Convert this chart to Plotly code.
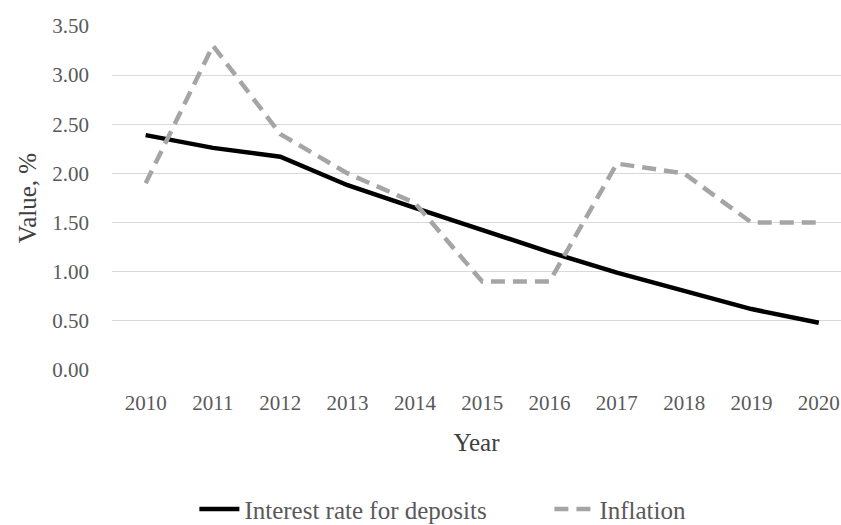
import plotly.graph_objects as go

years = [2010, 2011, 2012, 2013, 2014, 2015, 2016, 2017, 2018, 2019, 2020]
interest_rate = [2.39, 2.26, 2.17, 1.88, 1.65, 1.42, 1.20, 0.99, 0.80, 0.62, 0.48]
inflation = [1.90, 3.30, 2.40, 2.00, 1.70, 0.90, 0.90, 2.10, 2.00, 1.50, 1.50]
y_ticks = [0, 0.5, 1.0, 1.5, 2.0, 2.5, 3.0, 3.5]

FONT = "Liberation Serif"
TICK_GRAY = "#595959"
TITLE_GRAY = "#404040"

fig = go.Figure()
fig.add_trace(go.Scatter(
    x=years, y=interest_rate, mode="lines", name="Interest rate for deposits",
    line=dict(color="#000000", width=4.5), legend="legend",
))
fig.add_trace(go.Scatter(
    x=years, y=inflation, mode="lines", name="Inflation",
    line=dict(color="#A5A5A5", width=4.5, dash="14px,8px"), legend="legend2",
))

legend_style = dict(
    orientation="h", xanchor="left", yref="container", y=0.03, yanchor="middle",
    font=dict(family=FONT, size=25, color=TICK_GRAY),
    itemwidth=40, bgcolor="rgba(0,0,0,0)",
)

fig.update_layout(
    width=841, height=525,
    margin=dict(l=112, r=0, t=26, b=155, autoexpand=False),
    paper_bgcolor="white", plot_bgcolor="white",
    font=dict(family=FONT, size=21, color=TICK_GRAY),
    showlegend=True,
    legend=dict(x=0.113, **legend_style),
    legend2=dict(x=0.60, **legend_style),
    xaxis=dict(
        range=[2009.5, 2020.33], tickmode="array", tickvals=years,
        ticktext=[str(y) for y in years],
        showgrid=False, zeroline=False, showline=False, ticks="",
        ticklabelstandoff=18,
        tickfont=dict(family=FONT, size=21, color=TICK_GRAY),
        title=dict(text="Year", font=dict(family=FONT, size=25, color=TITLE_GRAY), standoff=19),
    ),
    yaxis=dict(
        range=[0, 3.5], tickmode="array", tickvals=y_ticks,
        ticktext=[f"{v:.2f}" for v in y_ticks],
        showgrid=True, gridcolor="#D9D9D9", gridwidth=1.3,
        zeroline=False, showline=False, ticks="",
        ticklabelstandoff=22,
        tickfont=dict(family=FONT, size=21, color=TICK_GRAY),
        title=dict(text="Value, %", font=dict(family=FONT, size=25, color=TITLE_GRAY), standoff=8),
    ),
)

fig.write_html("out.html")
